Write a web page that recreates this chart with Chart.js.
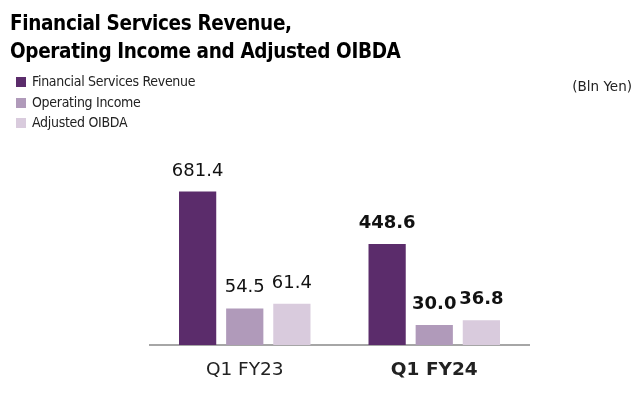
<!DOCTYPE html>
<html>
<head>
<meta charset="utf-8">
<script src="https://cdn.jsdelivr.net/npm/chart.js@4"></script>
<style>
  body { margin: 0; background: #fff; font-family: "DejaVu Sans Condensed", "DejaVu Sans", sans-serif; }
  #wrap { position: relative; width: 642px; height: 393px; overflow: hidden; }
  #chart { position: absolute; left: 0; top: 0; }
  .title { position: absolute; left: 10px; top: 9px; font-size: 20.5px; font-weight: bold; line-height: 28px; letter-spacing: -0.35px; color: #000; }
  .legend { position: absolute; left: 16px; top: 71px; font-size: 14px; color: #222; letter-spacing: -0.3px; }
  .legend div { height: 20.5px; line-height: 20px; }
  .legend span { display: inline-block; width: 10px; height: 10px; margin-right: 6px; vertical-align: -1px; }
  .unit { position: absolute; right: 10px; top: 78px; font-family: "DejaVu Sans", sans-serif; font-size: 13.5px; color: #222; }
</style>
</head>
<body>
<div id="wrap">
  <canvas id="chart" width="642" height="393"></canvas>
  <div class="title">Financial Services Revenue,<br>Operating Income and Adjusted OIBDA</div>
  <div class="legend" id="legend"></div>
  <div class="unit">(Bln Yen)</div>
</div>
<script>
// Chart data
const categories = ['Q1 FY23', 'Q1 FY24'];
const seriesNames = ['Financial Services Revenue', 'Operating Income', 'Adjusted OIBDA'];
const revenue = [681.4, 448.6];
const operatingIncome = [54.5, 30.0];
const adjustedOibda = [61.4, 36.8];
const colors = ['#5b2c6b', '#b09aba', '#d9cbdd'];

const FONT = '"DejaVu Sans", sans-serif';

// Build the legend on the left
const legendEl = document.getElementById('legend');
seriesNames.forEach((name, i) => {
  const row = document.createElement('div');
  row.innerHTML = `<span style="background:${colors[i]}"></span>${name}`;
  legendEl.appendChild(row);
});

// Labels drawn above each bar
const valueLabels = {
  id: 'valueLabels',
  afterDatasetsDraw(chart) {
    const ctx = chart.ctx;
    ctx.save();
    ctx.fillStyle = '#111';
    ctx.textAlign = 'center';
    ctx.textBaseline = 'alphabetic';
    chart.data.datasets.forEach((ds, di) => {
      chart.getDatasetMeta(di).data.forEach((bar, i) => {
        ctx.font = (i === 1 ? 'bold ' : '') + '18px ' + FONT;
        ctx.fillText(ds.data[i].toFixed(1), bar.x, bar.y - 16);
      });
    });
    ctx.restore();
  }
};

new Chart(document.getElementById('chart'), {
  type: 'bar',
  data: {
    labels: categories,
    datasets: [
      { label: seriesNames[0], data: revenue, backgroundColor: colors[0], yAxisID: 'y' },
      { label: seriesNames[1], data: operatingIncome, backgroundColor: colors[1], yAxisID: 'y2' },
      { label: seriesNames[2], data: adjustedOibda, backgroundColor: colors[2], yAxisID: 'y2' }
    ]
  },
  options: {
    responsive: false,
    animation: false,
    categoryPercentage: 0.746,
    barPercentage: 0.79,
    layout: { padding: { left: 150, right: 113, top: 150, bottom: 0 } },
    plugins: { legend: { display: false }, tooltip: { enabled: false } },
    scales: {
      x: {
        grid: { display: false },
        border: { display: true, color: '#a6a6a6', width: 2 },
        afterFit: (scale) => { scale.height = 48; },
        ticks: {
          color: '#222',
          padding: 6,
          maxRotation: 0,
          font: (c) => ({ family: FONT, size: 18.5, weight: c.index === 1 ? 'bold' : 'normal' })
        }
      },
      // revenue scale
      y: { display: false, min: 0, max: 866 },
      // operating income / OIBDA scale (shown larger in the original)
      y2: { display: false, min: 0, max: 291 }
    }
  },
  plugins: [valueLabels]
});
</script>
</body>
</html>
